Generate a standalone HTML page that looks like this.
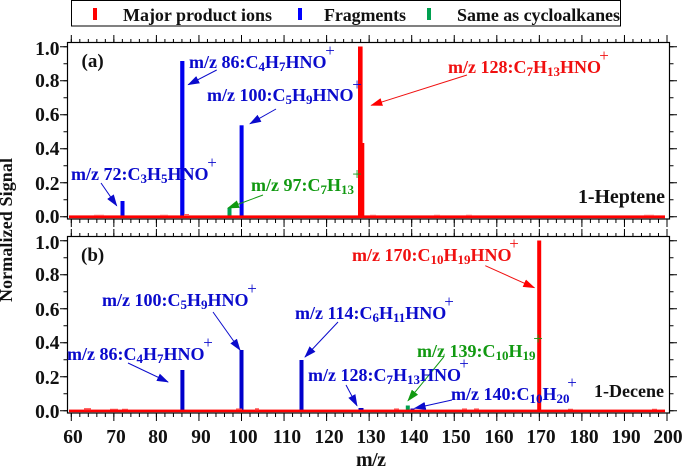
<!DOCTYPE html>
<html><head><meta charset="utf-8"><style>
html,body{margin:0;padding:0;background:#fff}
svg{display:block}
text{font-family:"Liberation Serif",serif;font-weight:bold}
.b{fill:#0a0acc;font-size:18px}.g{fill:#119911;font-size:18px}.r{fill:#f01010;font-size:18px}
.k{fill:#111;font-size:19.5px}
.p{font-weight:normal;font-size:17px;text-anchor:middle}
.s{font-size:13px}
</style></head><body>
<svg width="684" height="470" viewBox="0 0 684 470" xmlns="http://www.w3.org/2000/svg">
<defs>
<marker id="ab" markerWidth="12" markerHeight="8" refX="11" refY="4" orient="auto" markerUnits="userSpaceOnUse"><path d="M0 0L12 4L0 8Z" fill="#0a0acc"/></marker>
<marker id="ag" markerWidth="12" markerHeight="8" refX="11" refY="4" orient="auto" markerUnits="userSpaceOnUse"><path d="M0 0L12 4L0 8Z" fill="#119911"/></marker>
<marker id="ar" markerWidth="12" markerHeight="8" refX="11" refY="4" orient="auto" markerUnits="userSpaceOnUse"><path d="M0 0L12 4L0 8Z" fill="#ff0000"/></marker>
</defs>
<!-- legend -->
<rect x="71.5" y="0.5" width="549" height="25.5" fill="#fff" stroke="#000" stroke-width="1"/>
<rect x="93" y="8" width="4" height="12" fill="#ff0000"/>
<rect x="298" y="8" width="4" height="12" fill="#0000ff"/>
<rect x="427" y="8" width="4" height="12" fill="#00a050"/>
<text x="123" y="21" font-size="18" fill="#111" textLength="149">Major product ions</text>
<text x="324" y="21" font-size="18" fill="#111" textLength="82">Fragments</text>
<text x="457" y="21" font-size="18" fill="#111" textLength="163">Same as cycloalkanes</text>

<!-- frames -->
<rect x="67.5" y="42.5" width="602" height="176.5" fill="none" stroke="#000" stroke-width="1.2"/>
<rect x="67.5" y="236.5" width="602" height="176.5" fill="none" stroke="#000" stroke-width="1.2"/>

<!-- x ticks -->
<g stroke="#000" fill="none" stroke-width="4">
<line x1="70.8" x2="668" y1="41" y2="41" stroke-dasharray="1 7.51"/>
<line x1="70.8" x2="668" y1="221" y2="221" stroke-dasharray="1 7.51"/>
<line x1="70.8" x2="668" y1="235" y2="235" stroke-dasharray="1 7.51"/>
<line x1="70.8" x2="668" y1="415" y2="415" stroke-dasharray="1 7.51"/>
</g>
<g stroke="#000" fill="none" stroke-width="8">
<line x1="70.8" x2="668" y1="39" y2="39" stroke-dasharray="1 41.55"/>
<line x1="70.8" x2="668" y1="223" y2="223" stroke-dasharray="1 41.55"/>
<line x1="70.8" x2="668" y1="233" y2="233" stroke-dasharray="1 41.55"/>
<line x1="70.8" x2="668" y1="417" y2="417" stroke-dasharray="1 41.55"/>
</g>
<!-- y ticks -->
<g stroke="#000" fill="none" stroke-width="4">
<line x1="65.5" x2="65.5" y1="46.2" y2="218" stroke-dasharray="1 16"/>
<line x1="671.5" x2="671.5" y1="46.2" y2="218" stroke-dasharray="1 16"/>
<line x1="65.5" x2="65.5" y1="240.2" y2="412" stroke-dasharray="1 16"/>
<line x1="671.5" x2="671.5" y1="240.2" y2="412" stroke-dasharray="1 16"/>
</g>
<g stroke="#000" fill="none" stroke-width="8">
<line x1="64" x2="64" y1="46.2" y2="218" stroke-dasharray="1 33"/>
<line x1="673" x2="673" y1="46.2" y2="218" stroke-dasharray="1 33"/>
<line x1="64" x2="64" y1="240.2" y2="412" stroke-dasharray="1 33"/>
<line x1="673" x2="673" y1="240.2" y2="412" stroke-dasharray="1 33"/>
</g>

<!-- bars a -->
<rect x="120.5" y="201" width="4" height="16" fill="#0000ee"/>
<rect x="180.2" y="61" width="4.2" height="156" fill="#0000ee"/>
<rect x="239.6" y="125.3" width="4" height="92" fill="#0000ee"/>
<rect x="227.5" y="208" width="4" height="9" fill="#00a050"/>
<rect x="358" y="46.5" width="4.6" height="170" fill="#ff0000"/>
<rect x="361.5" y="143" width="2.8" height="74" fill="#ff0000"/>
<!-- baseline a -->
<rect x="69" y="215.4" width="596" height="2.8" fill="#ff0000"/>
<g fill="#ff6060">
<rect x="94" y="214.8" width="10" height="1"/><rect x="160" y="214.8" width="8" height="1"/><rect x="184" y="214" width="5" height="2"/><rect x="212" y="215" width="8" height="1"/><rect x="370" y="214.8" width="6" height="1"/><rect x="434" y="214.8" width="6" height="1"/><rect x="466" y="214.8" width="6" height="1"/><rect x="644" y="214.8" width="10" height="1"/><rect x="320" y="215" width="8" height="1"/><rect x="270" y="215" width="6" height="1"/>
</g>
<!-- bars b -->
<rect x="180.4" y="370" width="4" height="41" fill="#0000cc"/>
<rect x="239.5" y="350" width="4" height="61" fill="#0000cc"/>
<rect x="299.5" y="360" width="4" height="51" fill="#0000cc"/>
<rect x="537.2" y="240.5" width="4" height="170" fill="#ff0000"/>
<rect x="358.5" y="408" width="5" height="3" fill="#0000cc"/>
<rect x="405.8" y="405.5" width="4" height="5" fill="#00a050"/>
<rect x="410.5" y="408.5" width="4" height="2" fill="#0000cc"/>
<rect x="69" y="409.6" width="596" height="2.6" fill="#ff0000"/>
<g fill="#ff4040">
<rect x="84" y="408.2" width="7" height="2"/><rect x="110" y="408.8" width="8" height="1"/><rect x="122" y="408.8" width="6" height="1"/><rect x="236" y="408.5" width="6" height="1.5"/><rect x="255" y="408.3" width="4" height="2"/><rect x="394" y="408.5" width="5" height="1.5"/><rect x="462" y="408.5" width="5" height="1.5"/><rect x="474" y="408.5" width="5" height="1.5"/><rect x="568" y="408.8" width="5" height="1"/><rect x="652" y="408.8" width="5" height="1"/>
</g>

<!-- arrows -->
<g fill="none" stroke-width="1">
<line x1="101" y1="183" x2="116.7" y2="205.7" stroke="#0a0acc" marker-end="url(#ab)"/>
<line x1="216.7" y1="70" x2="188.3" y2="84.7" stroke="#0a0acc" marker-end="url(#ab)"/>
<line x1="276" y1="109" x2="250" y2="123.7" stroke="#0a0acc" marker-end="url(#ab)"/>
<line x1="263" y1="195" x2="228" y2="208" stroke="#119911" marker-end="url(#ag)"/>
<line x1="467" y1="75" x2="371.3" y2="105.3" stroke="#f01010" marker-end="url(#ar)"/>
<line x1="213" y1="312" x2="240" y2="350" stroke="#0a0acc" marker-end="url(#ab)"/>
<line x1="128" y1="363" x2="168" y2="382" stroke="#0a0acc" marker-end="url(#ab)"/>
<line x1="338" y1="322" x2="305" y2="357" stroke="#0a0acc" marker-end="url(#ab)"/>
<line x1="485.3" y1="265.7" x2="534.3" y2="287.7" stroke="#f01010" marker-end="url(#ar)"/>
<line x1="443.7" y1="357" x2="408" y2="400.7" stroke="#119911" marker-end="url(#ag)"/>
<line x1="452" y1="400" x2="414.7" y2="408.3" stroke="#0a0acc" marker-end="url(#ab)"/>
<line x1="346" y1="385" x2="357" y2="405.7" stroke="#0a0acc" marker-end="url(#ab)"/>
</g>

<!-- labels a -->
<text x="81.5" y="67" font-size="19" fill="#111">(a)</text>
<text class="b" x="189" y="68">m/z 86:C<tspan class="s" dy="3">4</tspan><tspan dy="-3">H</tspan><tspan class="s" dy="3">7</tspan><tspan dy="-3">HNO</tspan></text>
<text class="b p" x="330" y="56">+</text>
<text class="b" x="207" y="101">m/z 100:C<tspan class="s" dy="3">5</tspan><tspan dy="-3">H</tspan><tspan class="s" dy="3">9</tspan><tspan dy="-3">HNO</tspan></text>
<text class="b p" x="357" y="90">+</text>
<text class="b" x="71" y="180">m/z 72:C<tspan class="s" dy="3">3</tspan><tspan dy="-3">H</tspan><tspan class="s" dy="3">5</tspan><tspan dy="-3">HNO</tspan></text>
<text class="b p" x="212" y="168">+</text>
<text class="g" x="251" y="191">m/z 97:C<tspan class="s" dy="3">7</tspan><tspan dy="-3">H</tspan><tspan class="s" dy="3">13</tspan></text>
<text class="g p" x="357" y="179.5">+</text>
<text class="r" x="448" y="73">m/z 128:C<tspan class="s" dy="3">7</tspan><tspan dy="-3">H</tspan><tspan class="s" dy="3">13</tspan><tspan dy="-3">HNO</tspan></text>
<text class="r p" x="604" y="61">+</text>
<text x="578" y="203" font-size="20" fill="#111" textLength="87">1-Heptene</text>

<!-- labels b -->
<text x="81" y="261" font-size="19" fill="#111">(b)</text>
<text class="b" x="102" y="306">m/z 100:C<tspan class="s" dy="3">5</tspan><tspan dy="-3">H</tspan><tspan class="s" dy="3">9</tspan><tspan dy="-3">HNO</tspan></text>
<text class="b p" x="252" y="294">+</text>
<text class="b" x="67" y="360">m/z 86:C<tspan class="s" dy="3">4</tspan><tspan dy="-3">H</tspan><tspan class="s" dy="3">7</tspan><tspan dy="-3">HNO</tspan></text>
<text class="b p" x="208" y="348">+</text>
<text class="b" x="295" y="319">m/z 114:C<tspan class="s" dy="3">6</tspan><tspan dy="-3">H</tspan><tspan class="s" dy="3">11</tspan><tspan dy="-3">HNO</tspan></text>
<text class="b p" x="449" y="307">+</text>
<text class="b" x="308" y="381">m/z 128:C<tspan class="s" dy="3">7</tspan><tspan dy="-3">H</tspan><tspan class="s" dy="3">13</tspan><tspan dy="-3">HNO</tspan></text>
<text class="b p" x="464" y="369">+</text>
<text class="g" x="417" y="357">m/z 139:C<tspan class="s" dy="3">10</tspan><tspan dy="-3">H</tspan><tspan class="s" dy="3">19</tspan></text>
<text class="g p" x="538" y="344">+</text>
<text class="b" x="451" y="400">m/z 140:C<tspan class="s" dy="3">10</tspan><tspan dy="-3">H</tspan><tspan class="s" dy="3">20</tspan></text>
<text class="b p" x="572" y="388">+</text>
<text class="r" x="352" y="261">m/z 170:C<tspan class="s" dy="3">10</tspan><tspan dy="-3">H</tspan><tspan class="s" dy="3">19</tspan><tspan dy="-3">HNO</tspan></text>
<text class="r p" x="514" y="249">+</text>
<text x="594" y="397" font-size="18" fill="#111" textLength="70">1-Decene</text>

<!-- y labels -->
<g text-anchor="end">
<text class="k" x="59.5" y="55">1.0</text><text class="k" x="59.5" y="87">0.8</text><text class="k" x="59.5" y="121">0.6</text><text class="k" x="59.5" y="155">0.4</text><text class="k" x="59.5" y="190">0.2</text><text class="k" x="59.5" y="223">0.0</text>
<text class="k" x="59.5" y="249">1.0</text><text class="k" x="59.5" y="281">0.8</text><text class="k" x="59.5" y="316">0.6</text><text class="k" x="59.5" y="349">0.4</text><text class="k" x="59.5" y="384">0.2</text><text class="k" x="59.5" y="418">0.0</text>
</g>
<!-- x labels -->
<g text-anchor="middle">
<text class="k" x="73" y="443">60</text><text class="k" x="116" y="443">70</text><text class="k" x="158" y="443">80</text><text class="k" x="201" y="443">90</text><text class="k" x="243" y="443">100</text><text class="k" x="287" y="443">110</text><text class="k" x="329" y="443">120</text><text class="k" x="371" y="443">130</text><text class="k" x="414" y="443">140</text><text class="k" x="456" y="443">150</text><text class="k" x="499" y="443">160</text><text class="k" x="541" y="443">170</text><text class="k" x="584" y="443">180</text><text class="k" x="626" y="443">190</text><text class="k" x="668" y="443">200</text>
</g>
<text x="356" y="466" font-size="20" fill="#111" textLength="30">m/z</text>
<text transform="translate(12 302) rotate(-90)" font-size="18" fill="#111" textLength="144">Normalized Signal</text>
</svg>
</body></html>
